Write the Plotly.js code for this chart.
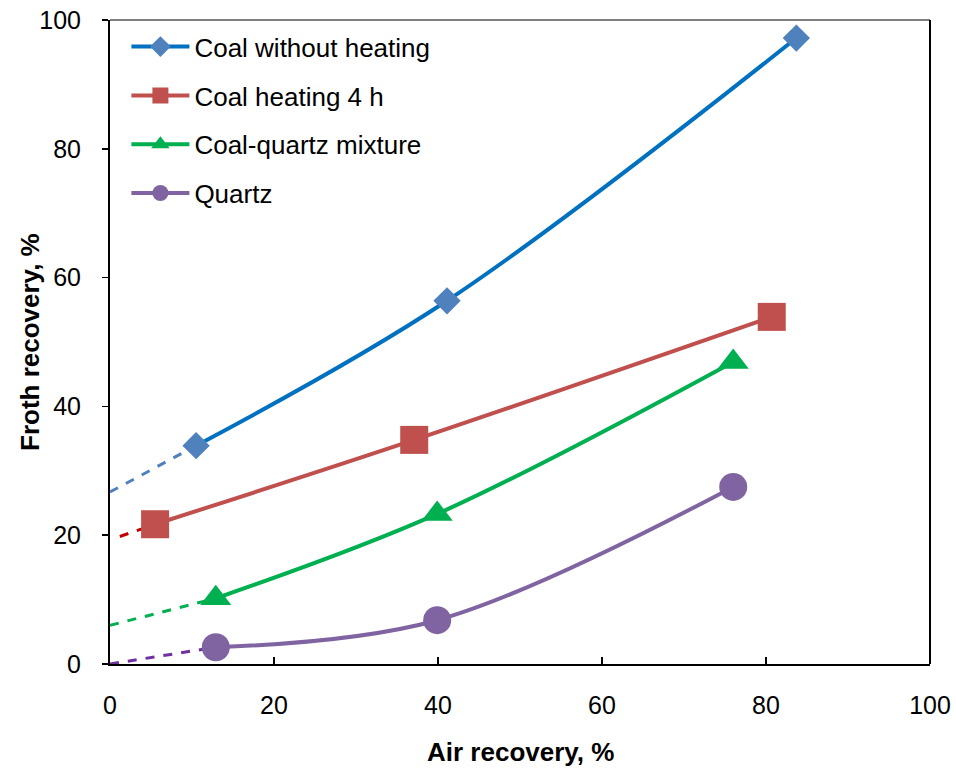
<!DOCTYPE html>
<html>
<head>
<meta charset="utf-8">
<script src="https://cdn.plot.ly/plotly-3.0.1.min.js"></script>
<style>html,body{margin:0;padding:0;background:#fff;}#chart{width:956px;height:770px;}</style>
</head>
<body>
<div id="chart"></div>
<script>
// Series names
const seriesNames = ["Coal without heating", "Coal heating 4 h", "Coal-quartz mixture", "Quartz"];
const xTitle = "Air recovery, %";
const yTitle = "Froth recovery, %";

// Measured points (Air recovery %, Froth recovery %)
const coalNoHeatX = [10.5, 41.1, 83.7];
const coalNoHeatY = [33.9, 56.4, 97.2];
const coalHeatX = [5.5, 37.1, 80.7];
const coalHeatY = [21.7, 34.8, 53.9];
const mixtureX = [12.9, 39.9, 76.0];
const mixtureY = [10.2, 23.3, 46.9];
const quartzX = [12.9, 39.9, 76.0];
const quartzY = [2.6, 6.8, 27.5];

// Dashed extrapolations toward origin
const extNoHeatX = [0, 10.5];
const extNoHeatY = [26.7, 33.9];
const extHeatX = [1.2, 5.5];
const extHeatY = [19.8, 21.7];
const extMixX = [0, 12.9];
const extMixY = [6.0, 10.2];
const extQuartzX = [0, 12.9];
const extQuartzY = [0, 2.6];

const xTicks = [0, 20, 40, 60, 80, 100];
const yTicks = [0, 20, 40, 60, 80, 100];

const FONT = "Liberation Sans, Arial, sans-serif";

function dashed(x, y, color) {
  return {x: x, y: y, mode: "lines", type: "scatter", showlegend: false, hoverinfo: "skip",
    line: {color: color, width: 3, dash: "dash"}};
}
function solid(x, y, name, lineColor, markerColor, symbol, size, grp) {
  return {x: x, y: y, name: name, mode: "lines+markers", type: "scatter", legendgroup: grp,
    line: {color: lineColor, width: 4, shape: "spline", smoothing: 1},
    marker: {color: markerColor, symbol: symbol, size: size, line: {width: 0}}};
}

const data = [
  dashed(extNoHeatX, extNoHeatY, "#4f81bd"),
  dashed(extHeatX, extHeatY, "#c00000"),
  dashed(extMixX, extMixY, "#00b050"),
  dashed(extQuartzX, extQuartzY, "#7030a0"),
  solid(coalNoHeatX, coalNoHeatY, seriesNames[0], "#0070c0", "#4f81bd", "diamond", 21, "a"),
  solid(coalHeatX, coalHeatY, seriesNames[1], "#c0504d", "#c0504d", "square", 28, "b"),
  solid(mixtureX, mixtureY, seriesNames[2], "#00b050", "#00b050", "triangle-up", 27, "c"),
  solid(quartzX, quartzY, seriesNames[3], "#8064a2", "#8064a2", "circle", 28, "d")
];

const layout = {
  width: 956, height: 770,
  margin: {l: 110, r: 26, t: 20, b: 106},
  paper_bgcolor: "#fff", plot_bgcolor: "#fff",
  font: {family: FONT, size: 25, color: "#000"},
  showlegend: true,
  legend: {x: 0.02, y: 0.995, xanchor: "left", yanchor: "top", bgcolor: "rgba(0,0,0,0)",
    font: {family: FONT, size: 26, color: "#000"}, tracegroupgap: 12, itemwidth: 58},
  xaxis: {range: [0, 100], tickvals: xTicks, ticktext: xTicks.map(String),
    showgrid: false, zeroline: false, showline: true, linecolor: "#000", linewidth: 2,
    ticks: "inside", ticklen: 7, tickwidth: 1.5, tickcolor: "#000", ticklabelstandoff: 18,
    tickfont: {family: FONT, size: 25}, fixedrange: true},
  yaxis: {range: [0, 100], tickvals: yTicks, ticktext: yTicks.map(String),
    showgrid: false, zeroline: false, showline: true, linecolor: "#000", linewidth: 2,
    ticks: "outside", ticklen: 6, tickwidth: 1.5, tickcolor: "#000", ticklabelstandoff: 16,
    tickfont: {family: FONT, size: 25}, fixedrange: true},
  annotations: [
    {text: "<b>" + xTitle + "</b>", xref: "paper", yref: "paper", x: 0.5, y: (664 - 752) / 644,
      xanchor: "center", yanchor: "middle", showarrow: false, font: {family: FONT, size: 26, color: "#000"}},
    {text: "<b>" + yTitle + "</b>", xref: "paper", yref: "paper", x: (30 - 110) / 820, y: 0.5,
      xanchor: "center", yanchor: "middle", textangle: -90, showarrow: false, font: {family: FONT, size: 26, color: "#000"}}
  ],
  shapes: [
    {type: "line", xref: "paper", yref: "paper", x0: 0, x1: 1, y0: 1, y1: 1, line: {color: "#7f7f7f", width: 2}},
    {type: "line", xref: "paper", yref: "paper", x0: 1, x1: 1, y0: 0, y1: 1, line: {color: "#000", width: 2}}
  ]
};

Plotly.newPlot("chart", data, layout, {displayModeBar: false, staticPlot: true});
</script>
</body>
</html>
